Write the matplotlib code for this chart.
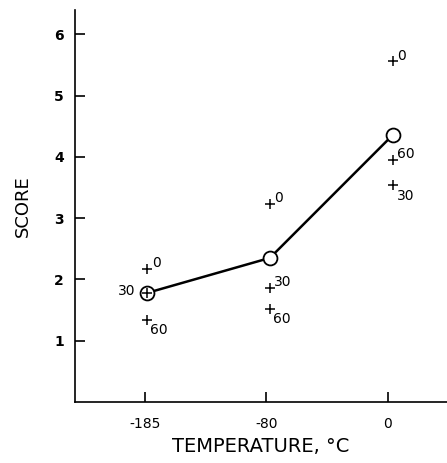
import matplotlib
matplotlib.use("Agg")
import matplotlib.pyplot as plt

# temperatures (categories) and scores
temps = ['-185', '-80', '0']
x_shift = [0.02, 0.03, 0.045]
mean_score = [1.78, 2.35, 4.36]
score_0 = [2.17, 3.23, 5.56]
score_30 = [1.78, 1.86, 3.54]
score_60 = [1.33, 1.51, 3.95]

# label offsets (points) for each series, per temperature
off_0 = [(3, 4), (3, 4), (3, 4)]
off_30 = [(-9, 1), (3, 4), (3, -8)]
off_60 = [(2, -7), (2, -7), (3, 4)]
ha_30 = ['right', 'left', 'left']

plt.rcParams['font.family'] = 'DejaVu Sans'

x_pos = [i + d for i, d in enumerate(x_shift)]

fig = plt.figure(figsize=(4.47, 4.63), dpi=100)
ax = fig.add_axes([0.168, 0.132, 0.832, 0.847])

ax.plot(x_pos, mean_score, color='black', lw=1.8, zorder=2)
ax.plot(x_pos, mean_score, 'o', ms=10, mfc='white', mec='black', mew=1.3, zorder=3)

for series, offs, name in [(score_0, off_0, '0'), (score_30, off_30, '30'), (score_60, off_60, '60')]:
    ax.plot(x_pos, series, '+', ms=7, mew=1.1, color='black', zorder=4)
    for i, (xv, yv) in enumerate(zip(x_pos, series)):
        ha = 'left'
        if name == '30':
            ha = ha_30[i]
        ax.annotate(name, (xv, yv), xytext=offs[i], textcoords='offset points',
                    ha=ha, va='center', fontsize=10)

ax.set_xlim(-0.577, 2.49)
ax.set_ylim(0, 6.4)
ax.set_xticks(range(len(temps)))
ax.set_xticklabels(temps)
ax.set_yticks([1, 2, 3, 4, 5, 6])
ax.set_yticklabels(['1', '2', '3', '4', '5', '6'], fontweight='bold')

ax.spines['top'].set_visible(False)
ax.spines['right'].set_visible(False)
ax.spines['left'].set_linewidth(1.2)
ax.spines['bottom'].set_linewidth(1.2)
ax.tick_params(axis='both', direction='in', length=7, width=1.2, labelsize=10)
ax.tick_params(axis='x', pad=11)
ax.tick_params(axis='y', pad=8)

ax.set_xlabel('TEMPERATURE, °C', fontsize=14, labelpad=4)
ax.set_ylabel('SCORE', fontsize=13, labelpad=16)

fig.savefig('out.png', dpi=100)
